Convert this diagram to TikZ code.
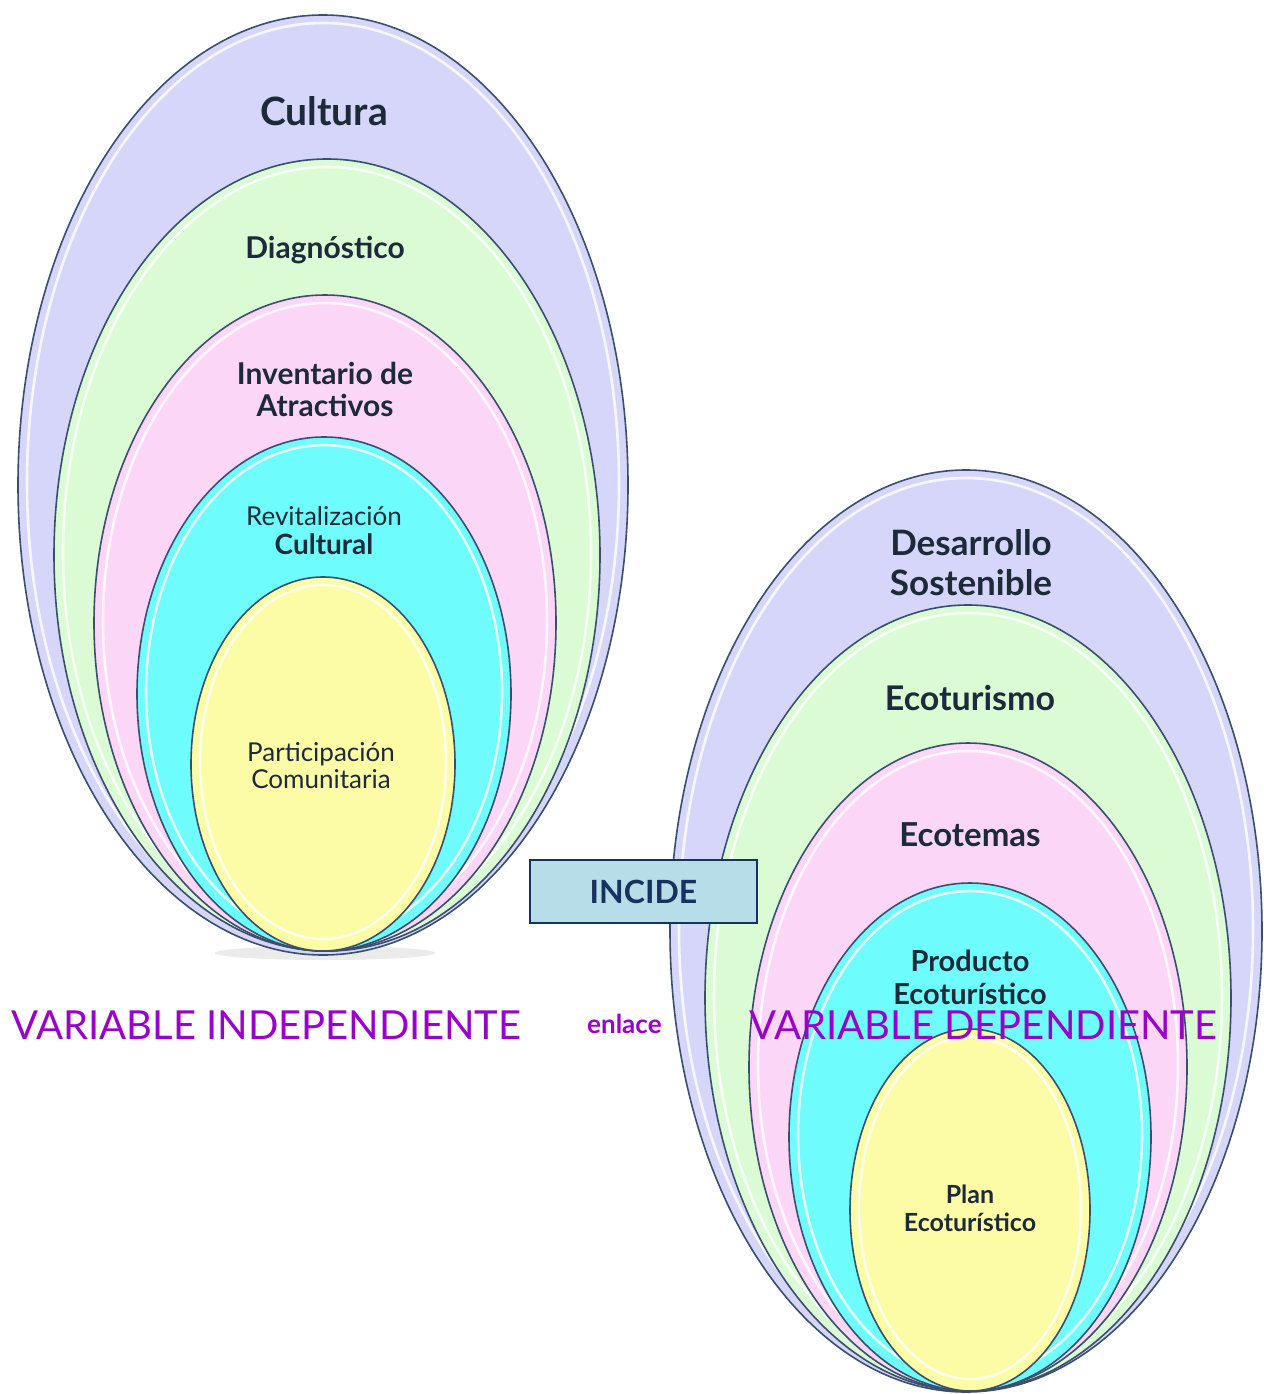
\documentclass[tikz,border=0pt]{standalone}
\usepackage{fontspec}
\setmainfont{Lato}
\definecolor{lav}{HTML}{D6D6FA}
\definecolor{mint}{HTML}{DAFBD4}
\definecolor{rosa}{HTML}{FCD6F6}
\definecolor{cian}{HTML}{6FFCFC}
\definecolor{amar}{HTML}{FCFCA6}
\definecolor{edge}{HTML}{3A4E6E}
\definecolor{lbl}{HTML}{1C2A3A}
\definecolor{violet}{HTML}{9A00CC}
\definecolor{incfill}{HTML}{B7DDE8}
\definecolor{incedge}{HTML}{17325E}
\tikzset{
  gloss/.style={draw=white, line width=2.6pt, opacity=0.8},
  lab/.style={text=lbl, align=center, inner sep=0pt},
  varlab/.style={text=violet, inner sep=0pt, anchor=base west},
}
\newcommand{\egg}[5]{%
  \fill[#5] (#1,#2) ellipse [x radius=#3pt, y radius=#4pt];
  \draw[edge, line width=1.6pt] (#1,#2) ellipse [x radius=#3pt, y radius=#4pt];
  \draw[gloss] (#1,#2-2) ellipse [x radius=#3pt-9pt, y radius=#4pt-10pt];
}
\begin{document}
\begin{tikzpicture}[x=1pt,y=-1pt]
\useasboundingbox (0,0) rectangle (1263,1394);
\fill[white] (0,0) rectangle (1263,1394);
% left set
\fill[black!25, opacity=0.3] (325,953) ellipse [x radius=110pt, y radius=7pt];
\egg{323}{485}{305}{470}{lav}
\egg{327}{555}{273}{396}{mint}
\egg{325}{623}{231}{328}{rosa}
\egg{324}{694}{187}{257}{cian}
\egg{323}{764}{132}{187}{amar}
% right set
\egg{966}{931}{296}{461}{lav}
\egg{968}{998}{263}{393}{mint}
\egg{968}{1067}{219}{324}{rosa}
\egg{970}{1137}{181}{254}{cian}
\egg{970}{1210}{120}{181}{amar}
% labels left
\node[lab, font=\bfseries\fontsize{39}{42}\selectfont] (cultura) at (324,111) {Cultura};
\node[lab, font=\bfseries\fontsize{30}{34}\selectfont] (diag) at (325,250) {Diagnóstico};
\node[lab, font=\bfseries\fontsize{30}{32}\selectfont] (inv) at (325,389) {Inventario de\\Atractivos};
\node[lab, font=\fontsize{26}{29}\selectfont] (revit) at (324,531) {Revitalización\\{\bfseries\fontsize{28}{29}\selectfont Cultural}};
\node[lab, font=\fontsize{26}{27}\selectfont] (part) at (321,766) {Participación\\Comunitaria};
% labels right
\node[lab, font=\bfseries\fontsize{35}{40}\selectfont] (des) at (971,563) {Desarrollo\\Sostenible};
\node[lab, font=\bfseries\fontsize{34}{36}\selectfont] (eco) at (970,698) {Ecoturismo};
\node[lab, font=\bfseries\fontsize{33}{36}\selectfont] (ecot) at (970,835) {Ecotemas};
\node[lab, font=\bfseries\fontsize{29}{33}\selectfont] (prod) at (970,977) {Producto\\Ecoturístico};
\node[lab, font=\bfseries\fontsize{25}{28}\selectfont] (plan) at (970,1208) {Plan\\Ecoturístico};
% INCIDE
\node[draw=incedge, fill=incfill, line width=1.6pt, minimum width=227pt, minimum height=63pt, inner sep=0pt, text=incedge, font=\bfseries\fontsize{32}{36}\selectfont] (incide) at (643.5,891.5) {INCIDE};
% variable labels
\node[varlab, font=\fontsize{40}{44}\selectfont] (vi) at (11,1039) {VARIABLE INDEPENDIENTE};
\node[varlab, font=\bfseries\fontsize{26}{30}\selectfont] (enl) at (587,1033) {enlace};
\node[varlab, font=\fontsize{40}{44}\selectfont] (vd) at (749,1039) {VARIABLE DEPENDIENTE};
\end{tikzpicture}
\end{document}
